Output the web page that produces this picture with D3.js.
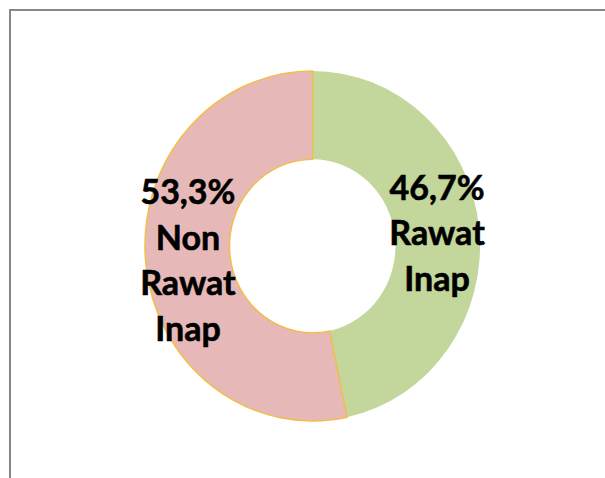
<!DOCTYPE html>
<html>
<head>
<meta charset="utf-8">
<script src="https://cdn.jsdelivr.net/npm/d3@7"></script>
<style>
  html, body { margin: 0; padding: 0; background: #fff; }
  svg { display: block; }
</style>
</head>
<body>
<svg id="chart" width="605" height="478"></svg>
<script>
// slices, clockwise from 12 o'clock
var categories = ["Rawat Inap", "Non Rawat Inap"];
var values = [46.7, 53.3];
var labelLines = [["46,7%", "Rawat", "Inap"], ["53,3%", "Non", "Rawat", "Inap"]];
var colors = ["#c3d69b", "#e6b9b8"];
var strokes = ["none", "#f2bd4b"];

var svg = d3.select("#chart"),
    width = +svg.attr("width"),
    height = +svg.attr("height");

// chart frame (runs off the right / bottom of the picture)
svg.append("rect")
    .attr("x", 10).attr("y", 10)
    .attr("width", width + 50).attr("height", height + 50)
    .attr("fill", "none")
    .attr("stroke", "#878787")
    .attr("stroke-width", 2);

var cx = 312.5, cy = 246,
    outerR = 167.5, innerR = 83,
    stretchY = 1.045;

var pie = d3.pie().sort(null).value(function(d) { return d; });
var arc = d3.arc().innerRadius(innerR).outerRadius(outerR);
var arcs = pie(values);

var g = svg.append("g")
    .attr("transform", "translate(" + cx + "," + cy + ") scale(1," + stretchY + ")");

g.selectAll("path")
    .data(arcs)
  .enter().append("path")
    .attr("d", arc)
    .attr("fill", function(d, i) { return colors[i]; })
    .attr("stroke", function(d, i) { return strokes[i]; })
    .attr("stroke-width", 1.5)
    .attr("vector-effect", "non-scaling-stroke");

// labels, centred on each slice's centroid
var lineH = 45.5, capH = 26;
var labels = svg.append("g").attr("class", "labels");
arcs.forEach(function(d, i) {
  var c = arc.centroid(d);
  var lx = cx + c[0],
      ly = cy + c[1] * stretchY;
  var lines = labelLines[i];
  var y0 = ly - (lines.length - 1) / 2 * lineH + capH / 2;
  var t = labels.append("text")
      .attr("text-anchor", "middle")
      .style("font-family", "Lato, 'Open Sans', sans-serif")
      .style("font-weight", "bold")
      .style("font-size", "34px")
      .style("fill", "#000")
      .style("stroke", "#000")
      .style("stroke-width", 0.6);
  lines.forEach(function(s, k) {
    t.append("tspan")
        .attr("x", lx)
        .attr("y", y0 + k * lineH)
        .text(s);
  });
});
</script>
</body>
</html>
